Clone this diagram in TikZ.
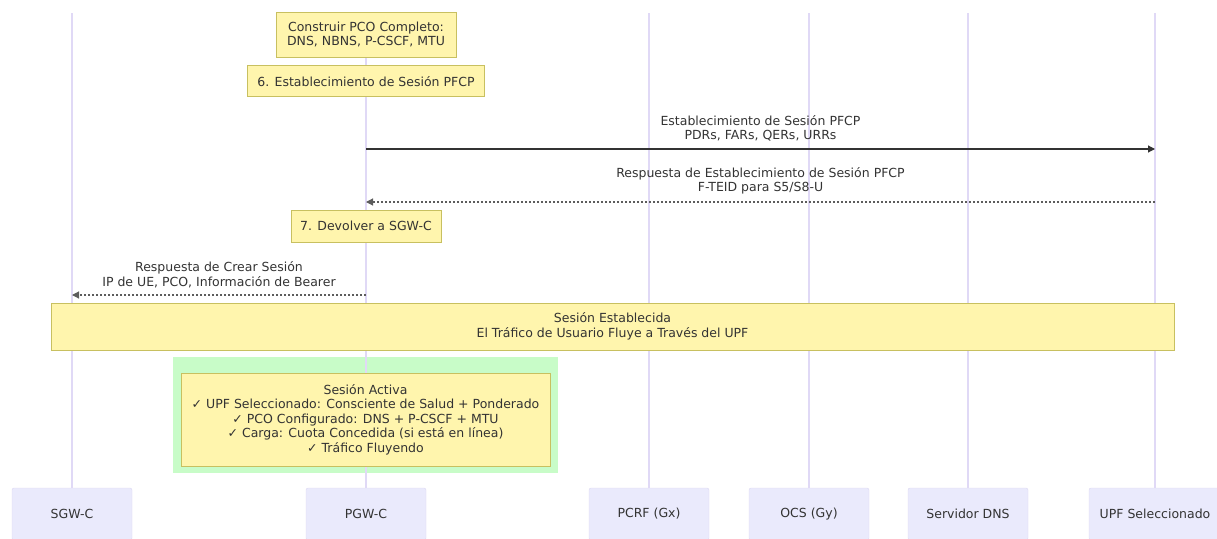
\documentclass[tikz,border=0pt]{standalone}
\usepackage{fontspec}
\setmainfont{DejaVu Sans}
\usepackage{xcolor}
\usetikzlibrary{positioning, arrows.meta}

\definecolor{ink}{HTML}{333333}
\definecolor{notefill}{HTML}{FFF5AD}
\definecolor{noteline}{HTML}{C8C060}
\definecolor{actorfill}{HTML}{EAEAFC}
\definecolor{actorline}{HTML}{DCD6F2}
\definecolor{lifecol}{HTML}{E0D9F6}
\definecolor{activebg}{HTML}{C8FCC8}

\tikzset{
    actor/.style={draw=actorline, fill=actorfill, rounded corners=2pt, minimum width=120pt, minimum height=52pt, inner sep=0pt},
    note/.style={draw=noteline, fill=notefill, align=center, inner sep=0pt, line width=0.8pt},
    life/.style={draw=lifecol, line width=1.2pt},
    msg/.style={draw=ink, line width=1.1pt, -{Triangle[length=7pt, width=7pt]}},
    reply/.style={msg, draw=ink!80, dash pattern=on 2pt off 2pt},
    msglabel/.style={align=center, inner sep=0pt, above=7pt, midway}
}

\begin{document}
\begin{tikzpicture}[x=1pt, y=-1pt, font=\fontsize{12.5}{14.5}\selectfont, text=ink]
            \useasboundingbox (0,0) rectangle (1217,538);
            % participants
            \node[actor] (sgw) at (72,514) {SGW-C};
            \node[actor] (pgw) at (366,514) {PGW-C};
            \node[actor] (pcrf) at (649,514) {PCRF (Gx)};
            \node[actor] (ocs) at (809,514) {OCS (Gy)};
            \node[actor] (dns) at (968,514) {Servidor DNS};
            \node[actor, minimum width=132pt] (upf) at (1155,514) {UPF Seleccionado};
            % active session area
            \fill[activebg] (173,357) rectangle (558,473);
            % lifelines
            \coordinate (sgw-top) at (72,13);
            \coordinate (pgw-top) at (366,13);
            \coordinate (pcrf-top) at (649,13);
            \coordinate (ocs-top) at (809,13);
            \coordinate (dns-top) at (968,13);
            \coordinate (upf-top) at (1155,13);
            \draw[life] (sgw-top) -- (sgw);
            \draw[life] (pgw-top) -- (pgw);
            \draw[life] (pcrf-top) -- (pcrf);
            \draw[life] (ocs-top) -- (ocs);
            \draw[life] (dns-top) -- (dns);
            \draw[life] (upf-top) -- (upf);
            % notes over PGW-C
            \node[note, minimum width=180pt, minimum height=45pt] (pco) at (366,34.5) {Construir PCO Completo:\\DNS, NBNS, P-CSCF, MTU};
            \node[note, minimum width=237pt, minimum height=31pt, below=8pt of pco] (paso6) {6. Establecimiento de Sesión PFCP};
            \node[note, minimum width=150pt, minimum height=32pt] (paso7) at (366,226) {7. Devolver a SGW-C};
            \node[note, minimum width=1123pt, minimum height=47pt] (sesion) at (612.5,326.5) {Sesión Establecida\\El Tráfico de Usuario Fluye a Través del UPF};
            \node[note, minimum width=369pt, minimum height=93pt] (activa) at (365.5,419.5) {Sesión Activa\\✓ UPF Seleccionado: Consciente de Salud + Ponderado\\✓ PCO Configurado: DNS + P-CSCF + MTU\\✓ Carga: Cuota Concedida (si está en línea)\\✓ Tráfico Fluyendo};
            % messages
            \coordinate (pgw-m1) at (366,149);
            \coordinate (upf-m1) at (1155,149);
            \coordinate (upf-m2) at (1155,202);
            \coordinate (pgw-m2) at (366,202);
            \coordinate (pgw-m3) at (366,295);
            \coordinate (sgw-m3) at (72,295);
            \draw[msg] (pgw-m1) -- (upf-m1) node[msglabel] {Establecimiento de Sesión PFCP\\PDRs, FARs, QERs, URRs};
            \draw[reply] (upf-m2) -- (pgw-m2) node[msglabel] {Respuesta de Establecimiento de Sesión PFCP\\F-TEID para S5/S8-U};
            \draw[reply] (pgw-m3) -- (sgw-m3) node[msglabel] {Respuesta de Crear Sesión\\IP de UE, PCO, Información de Bearer};
\end{tikzpicture}
\end{document}
